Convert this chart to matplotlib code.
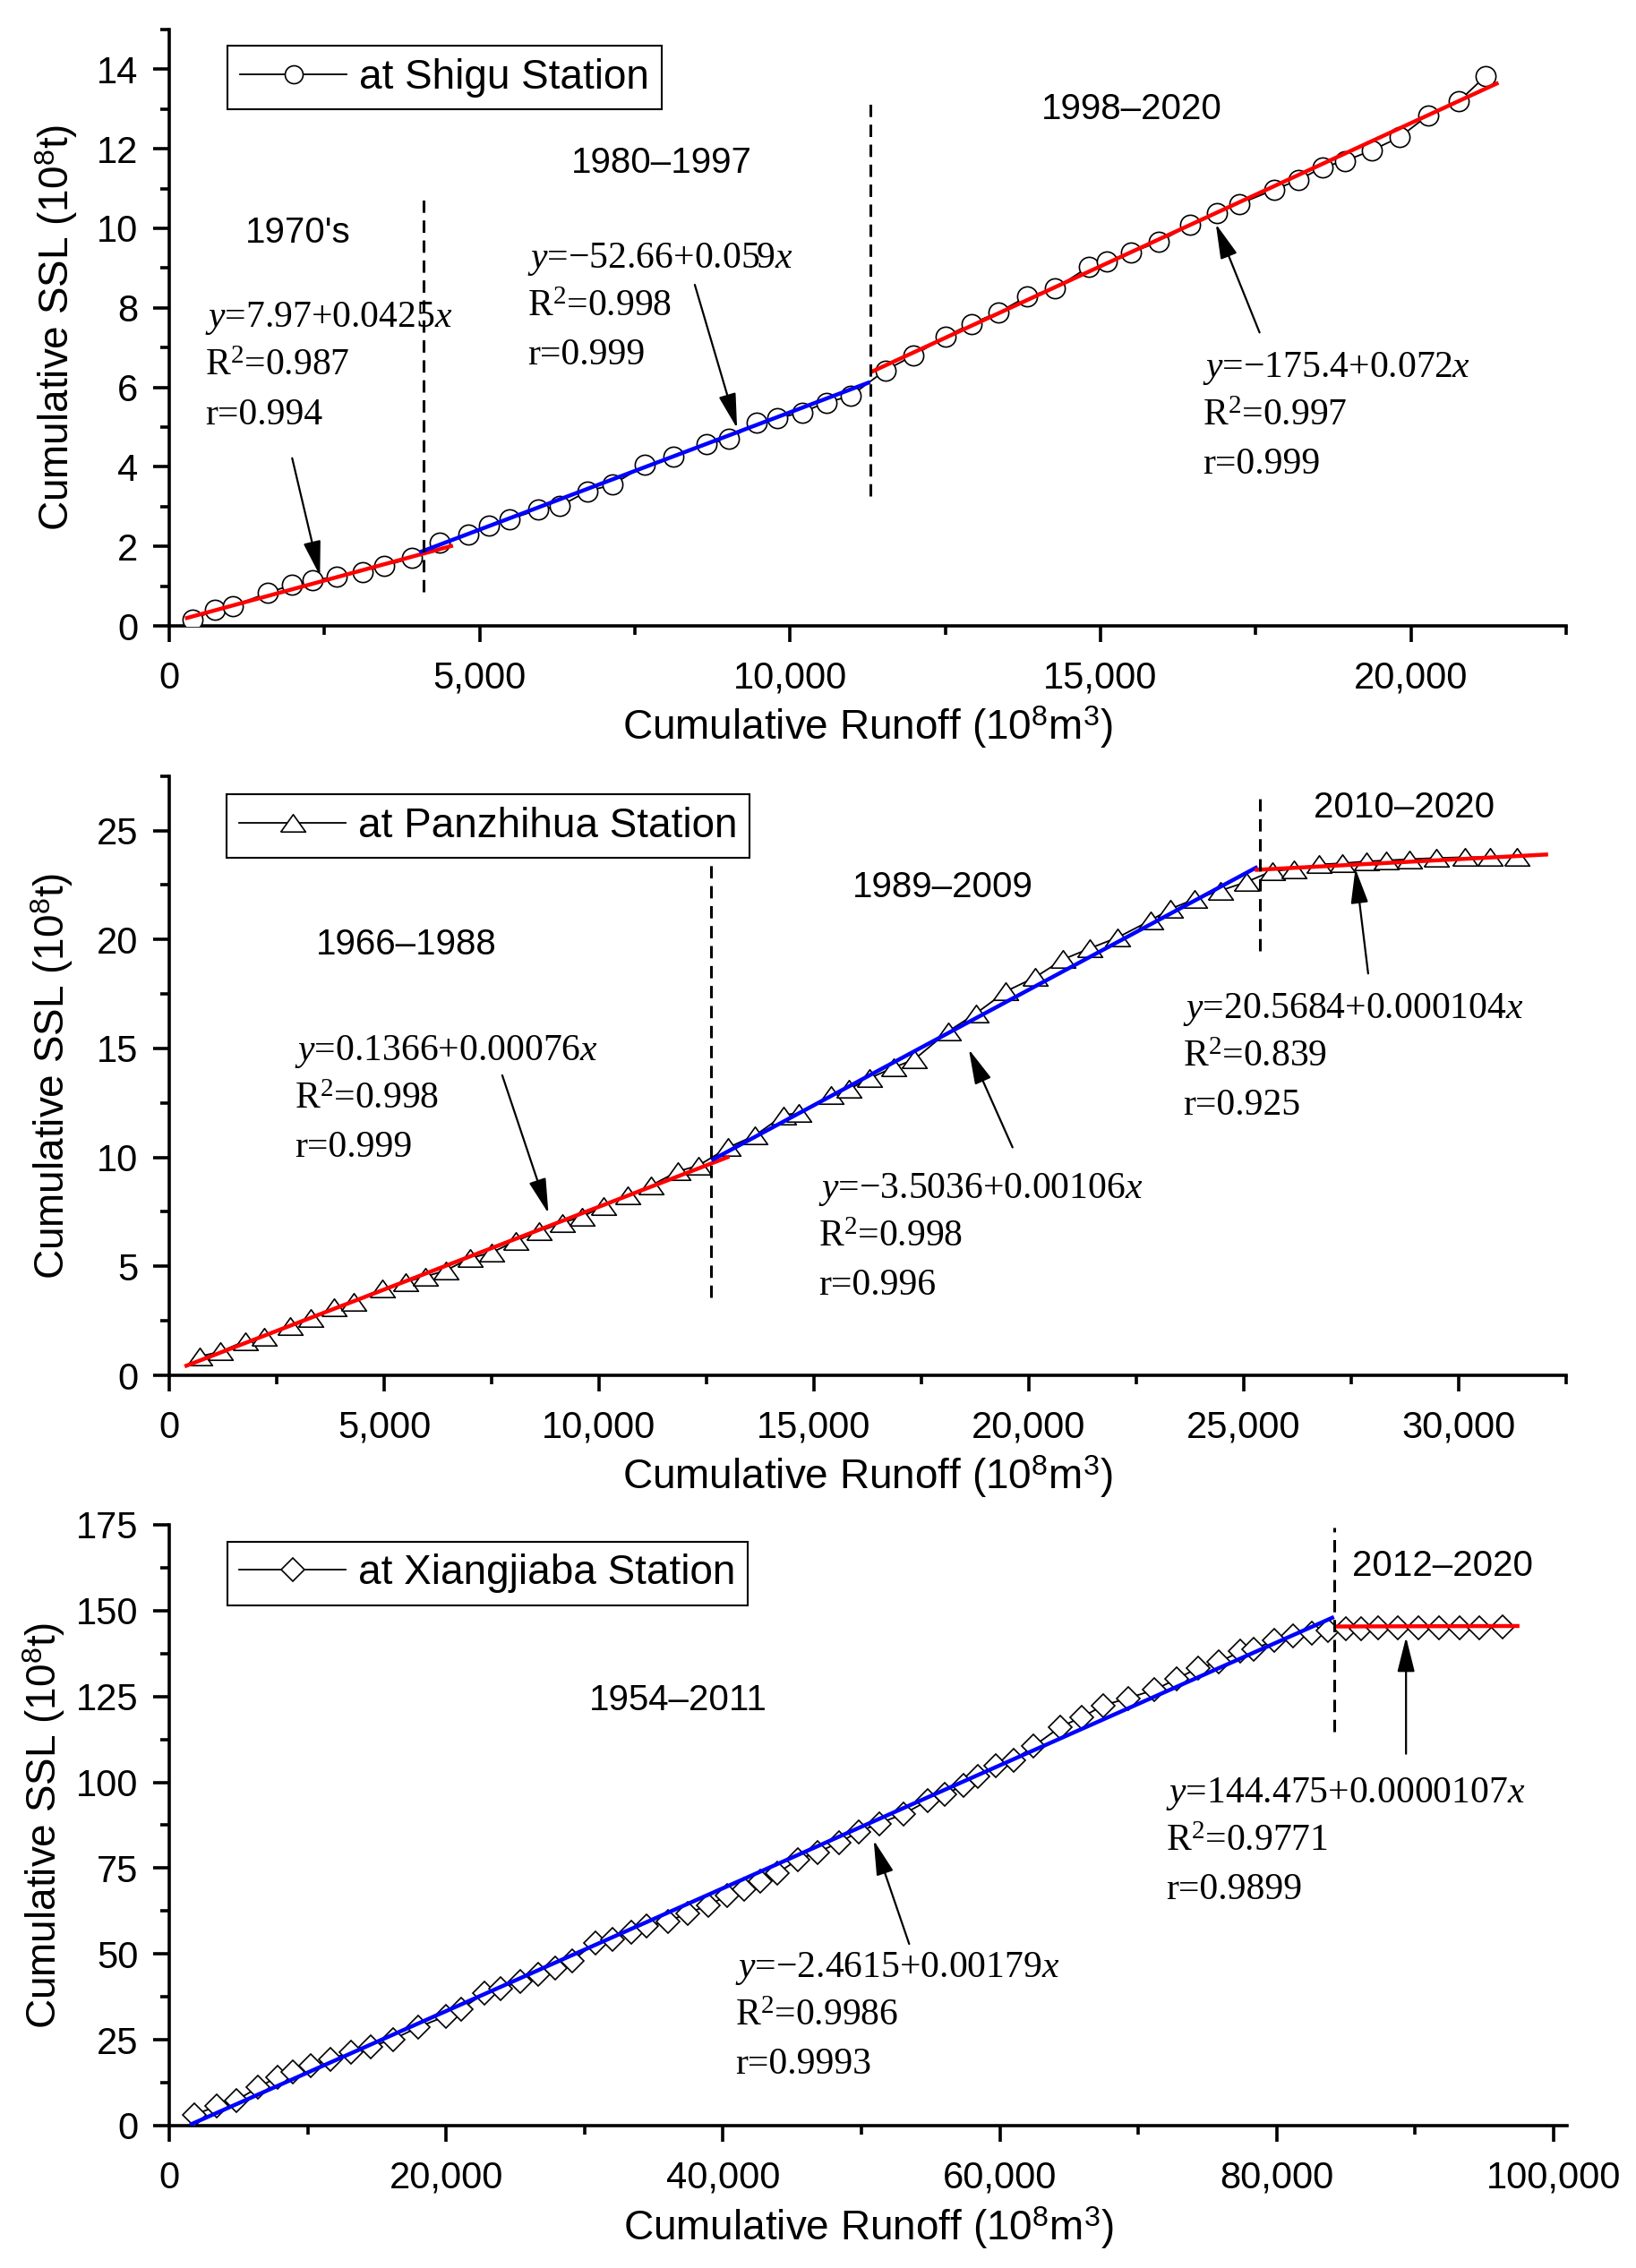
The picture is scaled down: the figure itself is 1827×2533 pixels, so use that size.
import numpy as np
import matplotlib
matplotlib.use('Agg')
import matplotlib.pyplot as plt
from matplotlib.ticker import MultipleLocator, FuncFormatter

plt.rcParams['font.family'] = ['Liberation Sans', 'DejaVu Sans']
plt.rcParams['mathtext.fontset'] = 'custom'
plt.rcParams['mathtext.rm'] = 'Liberation Serif'
plt.rcParams['mathtext.it'] = 'Liberation Serif:italic'

# ---------------- Shigu ----------------
shigu_runoff = [380, 737, 1027, 1582, 1972, 2313, 2702, 3117, 3465, 3906,
                4361, 4816, 5149, 5481, 5937, 6290, 6738, 7140, 7663, 8118,
                8650, 9021, 9462, 9794, 10191, 10582, 10972, 11535, 11989, 12505,
                12918, 13357, 13814, 14262, 14810, 15099, 15488, 15943, 16443, 16882,
                17229, 17794, 18183, 18583, 18932, 19369, 19816, 20275, 20775, 21196]
shigu_ssl = [0.16, 0.40, 0.50, 0.83, 1.03, 1.15, 1.24, 1.36, 1.51, 1.71,
             2.09, 2.29, 2.52, 2.68, 2.92, 3.01, 3.39, 3.55, 4.05, 4.25,
             4.57, 4.70, 5.12, 5.22, 5.37, 5.62, 5.78, 6.43, 6.80, 7.28,
             7.60, 7.89, 8.28, 8.48, 9.03, 9.17, 9.39, 9.66, 10.09, 10.39,
             10.61, 10.97, 11.21, 11.54, 11.69, 11.96, 12.29, 12.84, 13.20, 13.82]
# regression lines (equations printed in 10^6 t, plotted in 10^8 t)
shigu_fit_a = [7.97, -52.66, -175.4]
shigu_fit_b = [0.0425, 0.059, 0.072]
shigu_fit_from = [256, 4030, 11290]
shigu_fit_to = [4571, 11290, 21410]
shigu_fit_colors = ['red', 'blue', 'red']
shigu_breaks = [4094, 11290]
shigu_break_lo = [0.85, 3.27]
shigu_break_hi = [10.74, 13.15]
shigu_periods = ["1970's", '1980–1997', '1998–2020']
shigu_period_pos = [(2071, 9.89), (7927, 11.64), (15497, 13.0)]
shigu_eqs = [['$y$=7.97+0.0425$x$', 'R$^\\mathregular{2}$=0.987', 'r=0.994'],
             ['$y$=−52.66+0.059$x$', 'R$^\\mathregular{2}$=0.998', 'r=0.999'],
             ['$y$=−175.4+0.072$x$', 'R$^\\mathregular{2}$=0.997', 'r=0.999']]
shigu_eq_pos = [(585, 7.83), (5770, 9.33), (16650, 6.58)]
shigu_arrow_from = [(1981, 4.22), (8466, 8.58), (17562, 7.38)]
shigu_arrow_to = [(2429, 1.26), (9147, 4.97), (16858, 10.11)]

# ---------------- Panzhihua ----------------
panzhihua_runoff = [718, 1196, 1771, 2212, 2810, 3289, 3825, 4283, 4962, 5501,
                    5955, 6432, 6995, 7509, 8071, 8609, 9147, 9601, 10105, 10665,
                    11215, 11838, 12315, 13011, 13632, 14290, 14646, 15400, 15818, 16297,
                    16858, 17337, 18127, 18772, 19466, 20147, 20800, 21413, 22071, 22835,
                    23289, 23852, 24463, 25061, 25658, 26161, 26759, 27296, 27858, 28313,
                    28852, 29473, 30141, 30737, 31362]
panzhihua_ssl = [0.87, 1.09, 1.58, 1.77, 2.28, 2.61, 3.11, 3.39, 3.98, 4.28,
                 4.53, 4.81, 5.37, 5.64, 6.17, 6.60, 7.00, 7.28, 7.76, 8.26,
                 8.72, 9.36, 9.63, 10.46, 11.01, 11.93, 12.06, 12.85, 13.13, 13.64,
                 14.13, 14.50, 15.79, 16.61, 17.62, 18.27, 19.09, 19.59, 20.10, 20.88,
                 21.40, 21.85, 22.25, 22.64, 23.14, 23.23, 23.45, 23.50, 23.59, 23.63,
                 23.69, 23.74, 23.78, 23.78, 23.81]
panzhihua_fit_a = [0.1366, -3.5036, 20.5684]
panzhihua_fit_b = [0.00076, 0.00106, 0.000104]
panzhihua_fit_from = [359, 12613, 25256]
panzhihua_fit_to = [13033, 25321, 32080]
panzhihua_fit_colors = ['red', 'blue', 'red']
panzhihua_breaks = [12613, 25383]
panzhihua_break_lo = [3.58, 19.47]
panzhihua_break_hi = [23.87, 26.6]
panzhihua_periods = ['1966–1988', '1989–2009', '2010–2020']
panzhihua_period_pos = [(5518, 19.78), (18000, 22.4), (28731, 26.07)]
panzhihua_eqs = [['$y$=0.1366+0.00076$x$', 'R$^\\mathregular{2}$=0.998', 'r=0.999'],
                 ['$y$=−3.5036+0.00106$x$', 'R$^\\mathregular{2}$=0.998', 'r=0.996'],
                 ['$y$=20.5684+0.000104$x$', 'R$^\\mathregular{2}$=0.839', 'r=0.925']]
panzhihua_eq_pos = [(2925, 15.05), (15103, 8.71), (23590, 16.98)]
panzhihua_arrow_from = [(7749, 13.77), (19621, 10.46), (27894, 18.44)]
panzhihua_arrow_to = [(8824, 7.43), (18604, 14.96), (27596, 23.26)]

# ---------------- Xiangjiaba ----------------
xiangjiaba_runoff = [1786, 3418, 4828, 6427, 7805, 8918, 10219, 11624, 13112, 14562,
                     16154, 18018, 19986, 21105, 22775, 23966, 25377, 26678, 27869, 29092,
                     30762, 32024, 33369, 34469, 36036, 37446, 38935, 40307, 41537, 42722,
                     43945, 45434, 46832, 48364, 49812, 51271, 53069, 54791, 56016, 57394,
                     58424, 59691, 61024, 62442, 64357, 65885, 67496, 69256, 71167, 72773,
                     74306, 75834, 77368, 78326, 79853, 81193, 82533, 83678, 85019, 86093,
                     87316, 88773, 90261, 91717, 93238, 94662, 96306]
xiangjiaba_ssl = [3.1, 5.6, 7.3, 11.1, 14.1, 15.7, 17.4, 19.3, 21.4, 23.0,
                  25.1, 28.7, 31.9, 34.0, 38.5, 39.9, 42.1, 44.1, 45.9, 48.0,
                  53.2, 54.3, 56.4, 58.1, 59.5, 61.8, 64.2, 66.9, 68.8, 71.1,
                  73.6, 77.5, 79.6, 82.4, 85.6, 88.0, 90.8, 94.6, 96.4, 99.2,
                  101.6, 104.8, 106.5, 110.5, 116.1, 118.9, 122.4, 124.5, 126.9, 130.1,
                  133.3, 135.0, 138.1, 138.8, 141.3, 142.7, 143.4, 144.1, 144.8, 144.8,
                  144.9, 144.9, 145.0, 145.0, 145.1, 145.1, 145.2]
xiangjiaba_fit_a = [-2.4615, 144.475]
xiangjiaba_fit_b = [0.00179, 0.0000107]
xiangjiaba_fit_from = [1500, 84137]
xiangjiaba_fit_to = [84137, 97532]
xiangjiaba_fit_colors = ['blue', 'red']
xiangjiaba_breaks = [84137]
xiangjiaba_break_lo = [114.7]
xiangjiaba_break_hi = [174.3]
xiangjiaba_periods = ['1954–2011', '2012–2020']
xiangjiaba_period_pos = [(36780, 123.8), (92000, 163.1)]
xiangjiaba_eqs = [['$y$=−2.4615+0.00179$x$', 'R$^\\mathregular{2}$=0.9986', 'r=0.9993'],
                  ['$y$=144.475+0.0000107$x$', 'R$^\\mathregular{2}$=0.9771', 'r=0.9899']]
xiangjiaba_eq_pos = [(40860, 47.0), (72008, 97.8)]
xiangjiaba_arrow_from = [(53452, 52.9), (89340, 108.3)]
xiangjiaba_arrow_to = [(50890, 83.1), (89340, 142.3)]

# flat triangle like the Origin one
flat_triangle = [(-1, -0.7), (1, -0.7), (0, 0.7), (-1, -0.7)]


def draw_panel(ax, runoff, ssl, marker, ms, label, fit_a, fit_b, fit_from, fit_to,
               fit_colors, fit_scale, breaks, break_lo, break_hi, periods, period_pos,
               eqs, eq_pos, arrow_from, arrow_to, xmax, xmajor, xminor, ymax, ymajor,
               yminor, legend_xy, ylabel_x, markerscale):
    ax.plot(runoff, ssl, color='black', lw=1.3, marker=marker, ms=ms, mfc='white',
            mec='black', mew=1.2, label=label, zorder=3)
    for a, b, x0, x1, c in zip(fit_a, fit_b, fit_from, fit_to, fit_colors):
        xs = np.array([x0, x1], dtype=float)
        ax.plot(xs, (a + b * xs) * fit_scale, color=c, lw=3.2, zorder=4,
                solid_capstyle='butt')
    ax.vlines(breaks, break_lo, break_hi, colors='black', lw=2.2,
              linestyles=(0, (4.5, 2.8)), zorder=5)
    for s, (px, py) in zip(periods, period_pos):
        ax.text(px, py, s, fontsize=29, ha='center', va='center', zorder=6)
    for lines, (ex, ey) in zip(eqs, eq_pos):
        for i, s in enumerate(lines):
            ax.annotate(s, xy=(ex, ey), xytext=(0, -10 - 39 * i),
                        textcoords='offset points', fontsize=30,
                        family='Liberation Serif', ha='left', va='baseline', zorder=6)
    for p0, p1 in zip(arrow_from, arrow_to):
        ax.annotate('', xy=p1, xytext=p0,
                    arrowprops=dict(arrowstyle='-|>,head_length=0.8,head_width=0.2',
                                    color='black', lw=1.6, mutation_scale=30,
                                    shrinkA=0, shrinkB=0), zorder=7)

    ax.set_xlim(0, xmax)
    ax.set_ylim(0, ymax)
    ax.spines['top'].set_visible(False)
    ax.spines['right'].set_visible(False)
    ax.spines['left'].set_linewidth(2.6)
    ax.spines['bottom'].set_linewidth(2.6)
    ax.xaxis.set_major_locator(MultipleLocator(xmajor))
    ax.xaxis.set_minor_locator(MultipleLocator(xminor))
    ax.yaxis.set_major_locator(MultipleLocator(ymajor))
    ax.yaxis.set_minor_locator(MultipleLocator(yminor))
    ax.xaxis.set_major_formatter(FuncFormatter(lambda v, p: f'{int(round(v)):,}'))
    ax.tick_params(which='major', direction='out', length=13, width=2.6, labelsize=30)
    ax.tick_params(which='minor', direction='out', length=7, width=2.6)
    ax.tick_params(axis='x', which='major', pad=15)
    ax.tick_params(axis='y', which='major', pad=12)
    ax.set_xlabel('Cumulative Runoff (10$^\\mathregular{8}$m$^\\mathregular{3}$)', fontsize=33)
    ax.set_ylabel('Cumulative SSL (10$^\\mathregular{8}$t)', fontsize=33)
    ax.xaxis.set_label_coords(0.5, -0.132)
    ax.yaxis.set_label_coords(ylabel_x, 0.5)

    leg = ax.legend(loc='upper left', bbox_to_anchor=legend_xy, fontsize=33,
                    frameon=True, fancybox=False, framealpha=1, edgecolor='black',
                    handlelength=2.6, handletextpad=0.3, borderpad=0.3,
                    borderaxespad=0, markerscale=markerscale)
    leg.get_frame().set_linewidth(1.5)


fig = plt.figure(figsize=(18.27, 25.33), dpi=100)
ax1 = fig.add_axes([0.1034, 0.7240, 0.8539, 0.2630])
ax2 = fig.add_axes([0.1034, 0.3936, 0.8539, 0.2642])
ax3 = fig.add_axes([0.1034, 0.0628, 0.8547, 0.2649])

draw_panel(ax1, shigu_runoff, shigu_ssl, 'o', 16, 'at Shigu Station',
           shigu_fit_a, shigu_fit_b, shigu_fit_from, shigu_fit_to, shigu_fit_colors, 0.01,
           shigu_breaks, shigu_break_lo, shigu_break_hi, shigu_periods, shigu_period_pos,
           shigu_eqs, shigu_eq_pos, shigu_arrow_from, shigu_arrow_to,
           22500, 5000, 2500, 15, 2, 1, (0.042, 0.973), -0.064, 0.9)
draw_panel(ax2, panzhihua_runoff, panzhihua_ssl, flat_triangle, 20, 'at Panzhihua Station',
           panzhihua_fit_a, panzhihua_fit_b, panzhihua_fit_from, panzhihua_fit_to,
           panzhihua_fit_colors, 1.0,
           panzhihua_breaks, panzhihua_break_lo, panzhihua_break_hi, panzhihua_periods,
           panzhihua_period_pos, panzhihua_eqs, panzhihua_eq_pos,
           panzhihua_arrow_from, panzhihua_arrow_to,
           32500, 5000, 2500, 27.5, 5, 2.5, (0.0414, 0.970), -0.067, 1.0)
draw_panel(ax3, xiangjiaba_runoff, xiangjiaba_ssl, 'D', 13, 'at Xiangjiaba Station',
           xiangjiaba_fit_a, xiangjiaba_fit_b, xiangjiaba_fit_from, xiangjiaba_fit_to,
           xiangjiaba_fit_colors, 1.0,
           xiangjiaba_breaks, xiangjiaba_break_lo, xiangjiaba_break_hi, xiangjiaba_periods,
           xiangjiaba_period_pos, xiangjiaba_eqs, xiangjiaba_eq_pos,
           xiangjiaba_arrow_from, xiangjiaba_arrow_to,
           101000, 20000, 10000, 175, 25, 12.5, (0.0414, 0.972), -0.073, 1.0)

fig.savefig('out.png', dpi=100)
